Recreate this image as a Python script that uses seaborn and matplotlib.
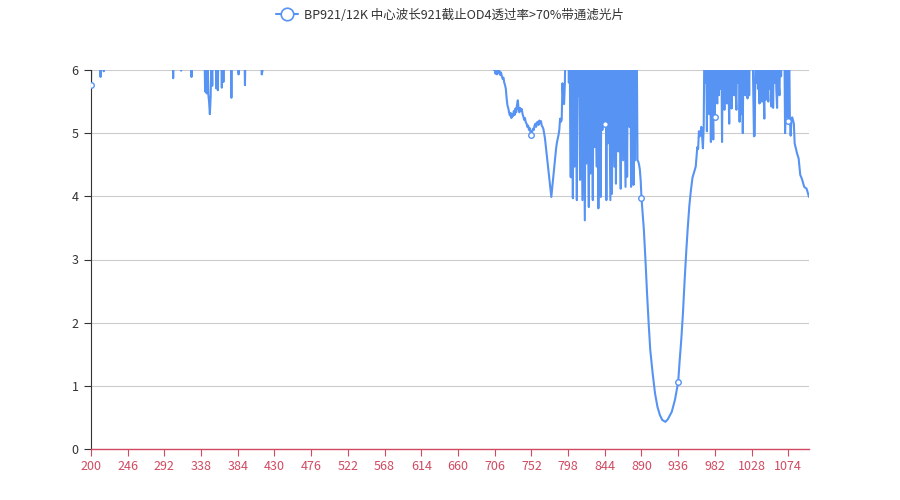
import numpy as np
import pandas as pd
import matplotlib
matplotlib.use("Agg")
import matplotlib.pyplot as plt
from matplotlib.lines import Line2D
import seaborn as sns

# OD curve; values above 6 run off the top of the axis
uv_nm = [200, 201, 211, 212, 213, 215, 216, 217, 302, 303, 304, 312, 313, 314,
         325, 326, 327, 342, 343, 344, 345, 346, 347, 348, 349, 350, 351, 352,
         353, 356, 357, 358, 359, 360, 363, 364, 365, 366, 367, 375, 376, 377,
         384, 385, 386, 392, 393, 394, 413, 414, 415, 416, 420]
uv_od = [5.76, 6.6, 6.6, 5.89, 6.6, 6.6, 5.98, 6.6, 6.6, 5.87, 6.6, 6.6, 5.99, 6.6,
         6.6, 5.89, 6.6, 6.6, 5.66, 6.3, 5.63, 6.3, 5.62, 5.50, 5.30, 5.58, 6.3, 5.75,
         6.6, 6.6, 5.71, 6.6, 5.68, 6.6, 6.6, 5.72, 6.6, 5.81, 6.6, 6.6, 5.56, 6.6,
         6.6, 5.93, 6.6, 6.6, 5.76, 6.6, 6.6, 5.93, 5.99, 6.6, 6.6]

gap_nm = [700, 704]
gap_od = [6.6, 6.6]

edge_nm = list(range(705, 768)) + [769, 772, 775, 777, 780, 783, 784, 786, 787,
                                   788, 789, 790, 791, 792, 793, 794, 795]
edge_od = [6.0, 6.05, 5.94, 5.99, 5.93, 6.02, 5.95, 5.98, 5.92, 5.96,
           5.90, 5.86, 5.88, 5.80, 5.76, 5.70, 5.55, 5.44, 5.40, 5.33,
           5.28, 5.32, 5.24, 5.30, 5.27, 5.35, 5.29, 5.39, 5.33, 5.45,
           5.52, 5.38, 5.33, 5.40, 5.35, 5.38, 5.30, 5.26, 5.21, 5.24,
           5.17, 5.15, 5.10, 5.12, 5.05, 5.08, 5.00, 4.97, 5.03, 5.07,
           5.05, 5.12, 5.15, 5.10, 5.17, 5.18, 5.13, 5.20, 5.16, 5.19,
           5.12, 5.10, 5.07,
           4.92, 4.57, 4.21, 3.99, 4.37, 4.76, 4.85, 4.97, 5.05,
           5.23, 5.18, 5.21, 5.79, 5.50, 5.46, 5.80, 6.6]

noise1_nm = list(range(796, 886))
noise1_od = [6.6, 6.6, 6.6, 5.8, 6.6, 4.31, 4.30, 6.6, 3.97, 6.6,
             4.47, 6.6, 5.4, 3.94, 6.6, 5.6, 6.6, 4.26, 6.6, 5.3,
             3.94, 6.6, 5.2, 3.62, 6.6, 4.52, 6.6, 5.1, 3.83, 6.6,
             4.36, 6.6, 5.5, 3.94, 6.6, 4.78, 6.6, 5.2, 4.47, 6.6,
             3.81, 6.6, 5.4, 3.99, 6.6, 5.05, 6.6, 5.6, 5.15, 6.6,
             3.94, 6.6, 4.84, 6.6, 5.3, 3.94, 6.6, 4.04, 6.6, 5.5,
             4.47, 6.6, 4.20, 6.6, 5.4, 4.71, 6.6, 5.2, 4.12, 6.6,
             5.6, 4.57, 6.6, 5.3, 4.15, 6.6, 4.31, 6.6, 5.7, 5.10,
             6.6, 4.15, 6.6, 5.5, 4.18, 6.6, 4.57, 6.6, 6.6, 4.57]

dip_nm = [886, 887, 888, 889, 890, 893, 895, 897, 899, 901, 904, 907, 910, 913,
          916, 920, 923, 928, 932, 936, 938, 940, 942, 944, 946, 948, 950, 952,
          954, 955, 958, 960, 961, 962, 963, 964, 965, 966, 967, 968]
dip_od = [4.55, 4.50, 4.42, 4.25, 3.98, 3.47, 2.99, 2.46, 1.99, 1.57, 1.20, 0.88, 0.67, 0.54,
          0.46, 0.43, 0.47, 0.59, 0.78, 1.06, 1.42, 1.75, 2.15, 2.65, 3.10, 3.50, 3.85, 4.10,
          4.30, 4.34, 4.47, 4.78, 4.75, 5.03, 4.95, 5.00, 5.10, 4.95, 4.76, 5.10]

noise2_nm = list(range(969, 1080))
noise2_od = [6.6, 5.8, 6.6, 5.03, 6.6, 5.7, 5.30, 6.6, 4.86, 6.6,
             5.6, 4.90, 6.6, 5.26, 6.6, 5.8, 5.47, 6.6, 5.60, 6.6,
             5.7, 6.6, 4.86, 6.6, 5.8, 5.37, 6.6, 5.7, 5.47, 6.6,
             5.8, 5.15, 6.6, 5.7, 5.39, 6.6, 5.8, 5.60, 6.6, 5.7,
             5.37, 6.6, 5.8, 6.6, 5.18, 6.6, 5.30, 6.6, 5.00, 6.6,
             5.8, 5.60, 6.6, 5.7, 5.55, 6.6, 5.60, 6.6, 6.6, 6.6,
             6.6, 5.8, 4.95, 4.96, 6.6, 5.8, 6.6, 5.7, 6.6, 5.47,
             6.6, 5.8, 5.50, 6.6, 5.7, 5.23, 6.6, 5.53, 6.6, 5.8,
             5.50, 6.6, 5.7, 6.6, 5.42, 6.6, 5.40, 6.6, 5.8, 6.6,
             5.7, 5.40, 6.6, 5.8, 5.60, 6.6, 5.9, 6.6, 6.6, 6.6,
             6.6, 5.00, 5.50, 6.6, 5.26, 5.20, 6.6, 5.26, 4.96, 5.23, 5.25]

tail_nm = [1080, 1081, 1082, 1084, 1085, 1087, 1089, 1091, 1094, 1097, 1100]
tail_od = [5.20, 5.15, 4.84, 4.73, 4.68, 4.60, 4.34, 4.28, 4.15, 4.12, 3.99]

x_ticks = list(range(200, 1075, 46))
y_ticks = [0, 1, 2, 3, 4, 5, 6]
series_name = "BP921/12K 中心波长921截止OD4透过率>70%带通滤光片"

line_color = "#5793f3"
axis_color = "#d14a61"

df = pd.DataFrame({
    "nm": uv_nm + gap_nm + edge_nm + noise1_nm + dip_nm + noise2_nm + tail_nm,
    "od": uv_od + gap_od + edge_od + noise1_od + dip_od + noise2_od + tail_od,
}).sort_values("nm")

# symbols only where a labelled category sits inside the plot
marks = df[df["nm"].isin(x_ticks) & (df["od"] <= 6)]

sns.set_style("white")
plt.rcParams["font.family"] = ["Noto Sans CJK SC", "DejaVu Sans"]

fig = plt.figure(figsize=(9, 5), dpi=100)
ax = fig.add_axes([0.1011, 0.102, 0.7978, 0.758])

sns.lineplot(data=df, x="nm", y="od", ax=ax, color=line_color, linewidth=1.5,
             estimator=None, sort=True, legend=False)
sns.scatterplot(data=marks, x="nm", y="od", ax=ax, marker="o", s=16,
                facecolor="white", edgecolor=line_color, linewidth=1.0,
                zorder=5, legend=False)

ax.set_xlim(200, 1100)
ax.set_ylim(0, 6)
ax.set_xticks(x_ticks)
ax.set_yticks(y_ticks)
ax.set_xlabel("")
ax.set_ylabel("")

ax.yaxis.grid(True, color="#cccccc", linewidth=0.8)
ax.xaxis.grid(False)
ax.set_axisbelow(True)
for s in ["top", "right"]:
    ax.spines[s].set_visible(False)
ax.spines["left"].set_color("#333333")
ax.spines["left"].set_linewidth(0.8)
ax.spines["bottom"].set_color(axis_color)
ax.spines["bottom"].set_linewidth(1.0)

ax.tick_params(axis="x", colors=axis_color, length=5, width=0.8, pad=3, labelsize=9,
               direction="out", bottom=True)
ax.tick_params(axis="y", colors="#333333", length=5, width=0.8, pad=4, labelsize=9,
               direction="out", left=True)

handle = Line2D([0], [0], color=line_color, linewidth=1.5, marker="o", markersize=9,
                markerfacecolor="white", markeredgecolor=line_color, markeredgewidth=1.2)
fig.legend([handle], [series_name], loc="upper center", bbox_to_anchor=(0.5, 1.005),
           frameon=False, fontsize=9, handlelength=1.8, handletextpad=0.5,
           labelcolor="#333333")

fig.savefig("out.png", dpi=100)
